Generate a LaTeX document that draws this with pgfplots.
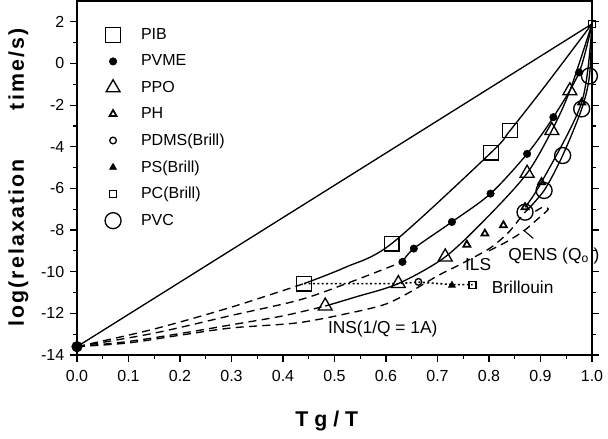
\documentclass[border=0pt]{standalone}
\usepackage{fontspec}
\setmainfont{Liberation Sans}
\usepackage{pgfplots}
\pgfplotsset{compat=1.18}
\begin{document}
\begin{tikzpicture}
\begin{axis}[
  name=main,
  scale only axis, width=386.25pt, height=265.5pt,
  xmin=0, xmax=1, ymin=-14, ymax=3,
  clip=false,
  axis line style={line width=1pt},
  tick align=outside,
  xtick pos=bottom,
  yticklabel pos=left,
  major tick length=5pt, minor tick length=3pt,
  every tick/.style={black, line width=0.9pt},
  minor x tick num=1, minor y tick num=1,
  xtick={0,0.1,0.2,0.3,0.4,0.5,0.6,0.7,0.8,0.9,1},
  xticklabels={0.0,0.1,0.2,0.3,0.4,0.5,0.6,0.7,0.8,0.9,1.0},
  ytick={-14,-12,-10,-8,-6,-4,-2,0,2},
  yticklabels={-14,-12,-10,-8,-6,-4,-2,0,2},
  ticklabel style={font=\fontsize{12}{14}\selectfont},
  xticklabel style={yshift=-3pt},
  yticklabel style={xshift=-1pt},
  xlabel={T g / T},
  xlabel style={at={(axis description cs:0.485,-0.2006)}, anchor=base, font=\bfseries\fontsize{16}{18}\selectfont},
  ylabel={\addfontfeatures{LetterSpace=10}log(relaxation\hspace{2.3em}time/s)},
  ylabel style={at={(axis description cs:-0.114,0.501)}, anchor=center, font=\bfseries\fontsize{16}{18}\selectfont},
  legend style={draw=none, fill=none, at={(axis description cs:0.054,0.930)}, anchor=north west,
    font=\fontsize{12}{14}\selectfont, row sep=5.9pt, inner sep=0pt,
    /tikz/every odd column/.append style={column sep=13pt}},
  legend cell align=left,
]
% straight line
\addplot[black, line width=1pt, forget plot] coordinates {(0,-13.6) (1,1.9)};
% dashed extensions from origin
\addplot[black, line width=1pt, dash pattern=on 6pt off 4pt, smooth, forget plot] coordinates {(0,-13.6) (0.15,-12.75) (0.3,-11.7) (0.441,-10.57)};
\addplot[black, line width=1pt, dash pattern=on 6pt off 4pt, smooth, forget plot] coordinates {(0,-13.6) (0.15,-12.95) (0.3,-12.1) (0.43,-11.37) (0.52,-10.6) (0.632,-9.53)};
\addplot[black, line width=1pt, dash pattern=on 6pt off 4pt, smooth, forget plot] coordinates {(0,-13.6) (0.1,-13.35) (0.2,-12.97) (0.3,-12.55) (0.39,-12.17) (0.44,-11.9) (0.482,-11.65)};
\addplot[black, line width=1pt, dash pattern=on 6pt off 4pt, smooth, forget plot] coordinates {(0,-13.6) (0.1,-13.42) (0.2,-13.05) (0.3,-12.7) (0.43,-12.45) (0.54,-11.93) (0.6,-11.55) (0.645,-11.0) (0.7,-10.2) (0.74,-9.7) (0.8,-8.9) (0.836,-8.16) (0.855,-7.6) (0.870,-7.14)};
% QENS hook
\addplot[black, line width=1pt, dash pattern=on 6pt off 4pt, smooth, forget plot] coordinates {(0.80,-9.0) (0.835,-8.55) (0.867,-8.05) (0.90,-7.35) (0.915,-7.0) (0.905,-6.9) (0.89,-7.1)};
\addplot[black, line width=0.8pt, forget plot] coordinates {(0.867,-8.0) (0.886,-8.4)};
% solid curves
\addplot[black, line width=1pt, smooth, forget plot] coordinates {(0.441,-10.57) (0.52,-9.8) (0.611,-8.65) (0.804,-4.28) (0.841,-3.22) (0.912,-0.98) (1,1.9)};
\addplot[black, line width=1pt, smooth, forget plot] coordinates {(0.632,-9.53) (0.654,-8.89) (0.728,-7.61) (0.803,-6.25) (0.874,-4.34) (0.925,-2.58) (0.975,-0.43) (1,1.9)};
\addplot[black, line width=1pt, smooth, forget plot] coordinates {(0.482,-11.65) (0.543,-11.2) (0.624,-10.57) (0.715,-9.29) (0.80,-7.3) (0.874,-5.27) (0.922,-3.22) (0.957,-1.31) (1,1.9)};
\addplot[black, line width=1pt, smooth, forget plot] coordinates {(0.870,-7.14) (0.907,-6.10) (0.943,-4.42) (0.980,-2.18) (0.995,-0.6) (1,1.9)};
\addplot[black, line width=1pt, smooth, forget plot] coordinates {(0.870,-6.90) (0.902,-5.70) (0.980,-1.87) (1,1.9)};
% Brillouin dotted
\addplot[black, line width=1.2pt, dash pattern=on 1.5pt off 1.8pt, forget plot] coordinates {(0.441,-10.57) (0.624,-10.57) (0.663,-10.5) (0.728,-10.62) (0.768,-10.62)};
% markers
\addplot[only marks, mark=*, mark size=4pt, forget plot] coordinates {(0,-13.6)};
\addplot[only marks, mark=square, mark size=2.5pt, mark options={fill=white, line width=0.9pt}, forget plot] coordinates {(1,1.9)};
\addplot[only marks, mark=square, mark size=5.5pt, mark options={fill=white, line width=0.9pt}, forget plot] coordinates {(0.441,-10.57) (0.611,-8.65) (0.804,-4.28) (0.841,-3.22)};
\addplot[only marks, mark=*, mark size=2.8pt, forget plot] coordinates {(0.632,-9.53) (0.654,-8.89) (0.728,-7.61) (0.803,-6.25) (0.874,-4.34) (0.925,-2.58) (0.975,-0.43)};
\addplot[only marks, mark=triangle, mark size=6pt, mark options={fill=white, line width=1pt}, forget plot] coordinates {(0.482,-11.65) (0.624,-10.57) (0.715,-9.29) (0.874,-5.27) (0.922,-3.22) (0.957,-1.31)};
\addplot[only marks, mark=o, mark size=6pt, mark options={fill=white, line width=1pt}, forget plot] coordinates {(0.870,-7.14) (0.907,-6.10) (0.943,-4.42) (0.980,-2.18) (0.995,-0.6)};
\addplot[only marks, mark=triangle, mark size=3pt, mark options={fill=white, line width=1.3pt}, forget plot] coordinates {(0.757,-8.70) (0.792,-8.17) (0.828,-7.77) (0.870,-6.90) (0.902,-5.70) (0.980,-1.87)};
\addplot[only marks, mark=o, mark size=2.5pt, mark options={fill=white, line width=1pt}, forget plot] coordinates {(0.663,-10.49)};
\addplot[only marks, mark=triangle*, mark size=3pt, forget plot] coordinates {(0.728,-10.65)};
\addplot[only marks, mark=square, mark size=2.6pt, mark options={fill=white, line width=1pt}, forget plot] coordinates {(0.768,-10.65)};
% legend
\addlegendimage{only marks, mark=square, mark size=5.5pt, mark options={fill=white, line width=0.9pt}}
\addlegendentry{PIB}
\addlegendimage{only marks, mark=*, mark size=2.8pt}
\addlegendentry{PVME}
\addlegendimage{only marks, mark=triangle, mark size=6pt, mark options={fill=white, line width=1pt}}
\addlegendentry{PPO}
\addlegendimage{only marks, mark=triangle, mark size=3pt, mark options={fill=white, line width=1.3pt}}
\addlegendentry{PH}
\addlegendimage{only marks, mark=o, mark size=2.5pt, mark options={fill=white, line width=1pt}}
\addlegendentry{PDMS(Brill)}
\addlegendimage{only marks, mark=triangle*, mark size=3pt}
\addlegendentry{PS(Brill)}
\addlegendimage{only marks, mark=square, mark size=2.6pt, mark options={fill=white, line width=1pt}}
\addlegendentry{PC(Brill)}
\addlegendimage{only marks, mark=o, mark size=6pt, mark options={fill=white, line width=1pt}}
\addlegendentry{PVC}
% annotations
\node[anchor=base west, font=\fontsize{13}{15}\selectfont, inner sep=0pt] at (axis cs:0.837,-9.45) {QENS (Q\textsubscript{o} )};
\node[anchor=base west, font=\fontsize{13}{15}\selectfont, inner sep=0pt] at (axis cs:0.753,-9.93) {ILS};
\node[anchor=base west, font=\fontsize{13}{15}\selectfont, inner sep=0pt] at (axis cs:0.805,-11.03) {Brillouin};
\node[anchor=base west, font=\fontsize{13}{15}\selectfont, inner sep=0pt] at (axis cs:0.487,-12.95) {INS(1/Q = 1A)};
\end{axis}
\pgfresetboundingbox
\path[use as bounding box] ([shift={(-57.75pt,-63pt)}]main.south west) rectangle ([shift={(12pt,0.75pt)}]main.north east);
\end{tikzpicture}
\end{document}
